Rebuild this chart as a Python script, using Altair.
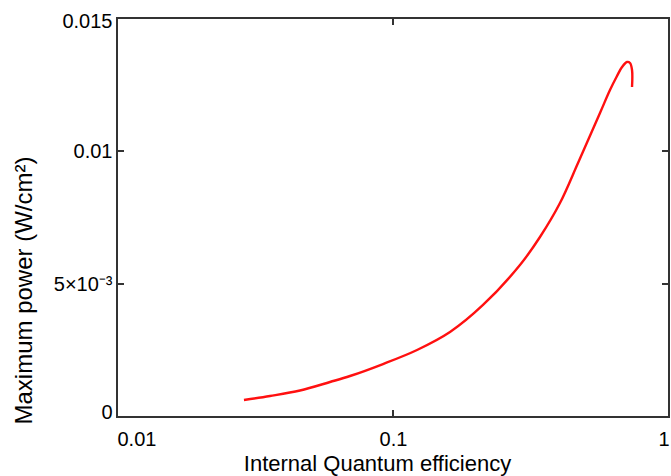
import altair as alt
import pandas as pd

# Curve
iqe = [0.02884, 0.03583, 0.04603, 0.05912, 0.06986, 0.09201, 0.1222, 0.1609,
       0.2119, 0.2884, 0.3408, 0.4027, 0.4681, 0.5623, 0.6112, 0.6481, 0.6758,
       0.7045, 0.7224, 0.7346, 0.7346]
pmax = [0.000639, 0.000789, 0.000996, 0.001316, 0.001541, 0.001992, 0.002519, 0.003195,
        0.004211, 0.005714, 0.006767, 0.008045, 0.009549, 0.011429, 0.012293, 0.012820, 0.013158,
        0.013346, 0.013308, 0.013045, 0.012406]

x_ticks = [0.01, 0.1, 1]
y_ticks = [0, 0.005, 0.01, 0.015]
y_tick_labels = ["0", "5×10⁻³", "0.01", "0.015"]

W, H = 552, 399
FONT = "Liberation Sans"

df = pd.DataFrame({"x": iqe, "y": pmax, "i": list(range(len(iqe)))})
dxt = pd.DataFrame({"v": x_ticks})
dyt = pd.DataFrame({"v": y_ticks})

xscale = alt.Scale(type="log", domain=[0.01, 1], nice=False)
yscale = alt.Scale(domain=[0, 0.015], nice=False)

label_map = "{" + ",".join(f"'{v}':'{l}'" for v, l in zip(y_ticks, y_tick_labels)) + "}"

y_label_offset = {"condition": [{"test": "datum.value == 0", "value": -5},
                                {"test": "datum.value == 0.015", "value": 3}],
                  "value": 0}

line = alt.Chart(df).mark_line(color="#ff1010", strokeWidth=2.4,
                               interpolate="catmull-rom").encode(
    x=alt.X("x:Q", scale=xscale,
            axis=alt.Axis(values=x_ticks, format="~g", title="Internal Quantum efficiency",
                          tickSize=0, domain=False, grid=False, labelPadding=12,
                          labelFontSize=20, labelFont=FONT, labelColor="black",
                          titleFontSize=22, titleFont=FONT, titleFontWeight="normal",
                          titleColor="black", titleX=260, titleY=53,
                          titleBaseline="alphabetic")),
    y=alt.Y("y:Q", scale=yscale,
            axis=alt.Axis(values=y_ticks, labelExpr=f"{label_map}[toString(datum.value)]",
                          title="Maximum power (W/cm²)",
                          tickSize=0, domain=False, grid=False, labelPadding=5,
                          labelOffset=y_label_offset,
                          labelFontSize=20, labelFont=FONT, labelColor="black",
                          titleFontSize=24, titleFont=FONT, titleFontWeight="normal",
                          titleColor="black", titleX=-93, titleY=272, titleAngle=270,
                          titleBaseline="middle", titleAlign="center")),
    order="i:Q",
)

tick_color = "#333333"
xt_bot = alt.Chart(dxt).mark_rule(color=tick_color, strokeWidth=2).encode(
    x=alt.X("v:Q", scale=xscale), y=alt.value(H), y2=alt.value(H - 7))
xt_top = alt.Chart(dxt).mark_rule(color=tick_color, strokeWidth=2).encode(
    x=alt.X("v:Q", scale=xscale), y=alt.value(0), y2=alt.value(7))
yt_left = alt.Chart(dyt).mark_rule(color=tick_color, strokeWidth=2).encode(
    y=alt.Y("v:Q", scale=yscale), x=alt.value(0), x2=alt.value(7))
yt_right = alt.Chart(dyt).mark_rule(color=tick_color, strokeWidth=2).encode(
    y=alt.Y("v:Q", scale=yscale), x=alt.value(W), x2=alt.value(W - 7))

chart = alt.layer(line, xt_bot, xt_top, yt_left, yt_right).properties(
    width=W, height=H,
    autosize=alt.AutoSizeParams(type="none"),
    padding={"left": 117, "top": 18, "right": 2, "bottom": 59},
    background="white",
).configure_view(stroke="#333333", strokeWidth=2)

chart.save("out.html", embed_options={"renderer": "svg", "actions": False})
